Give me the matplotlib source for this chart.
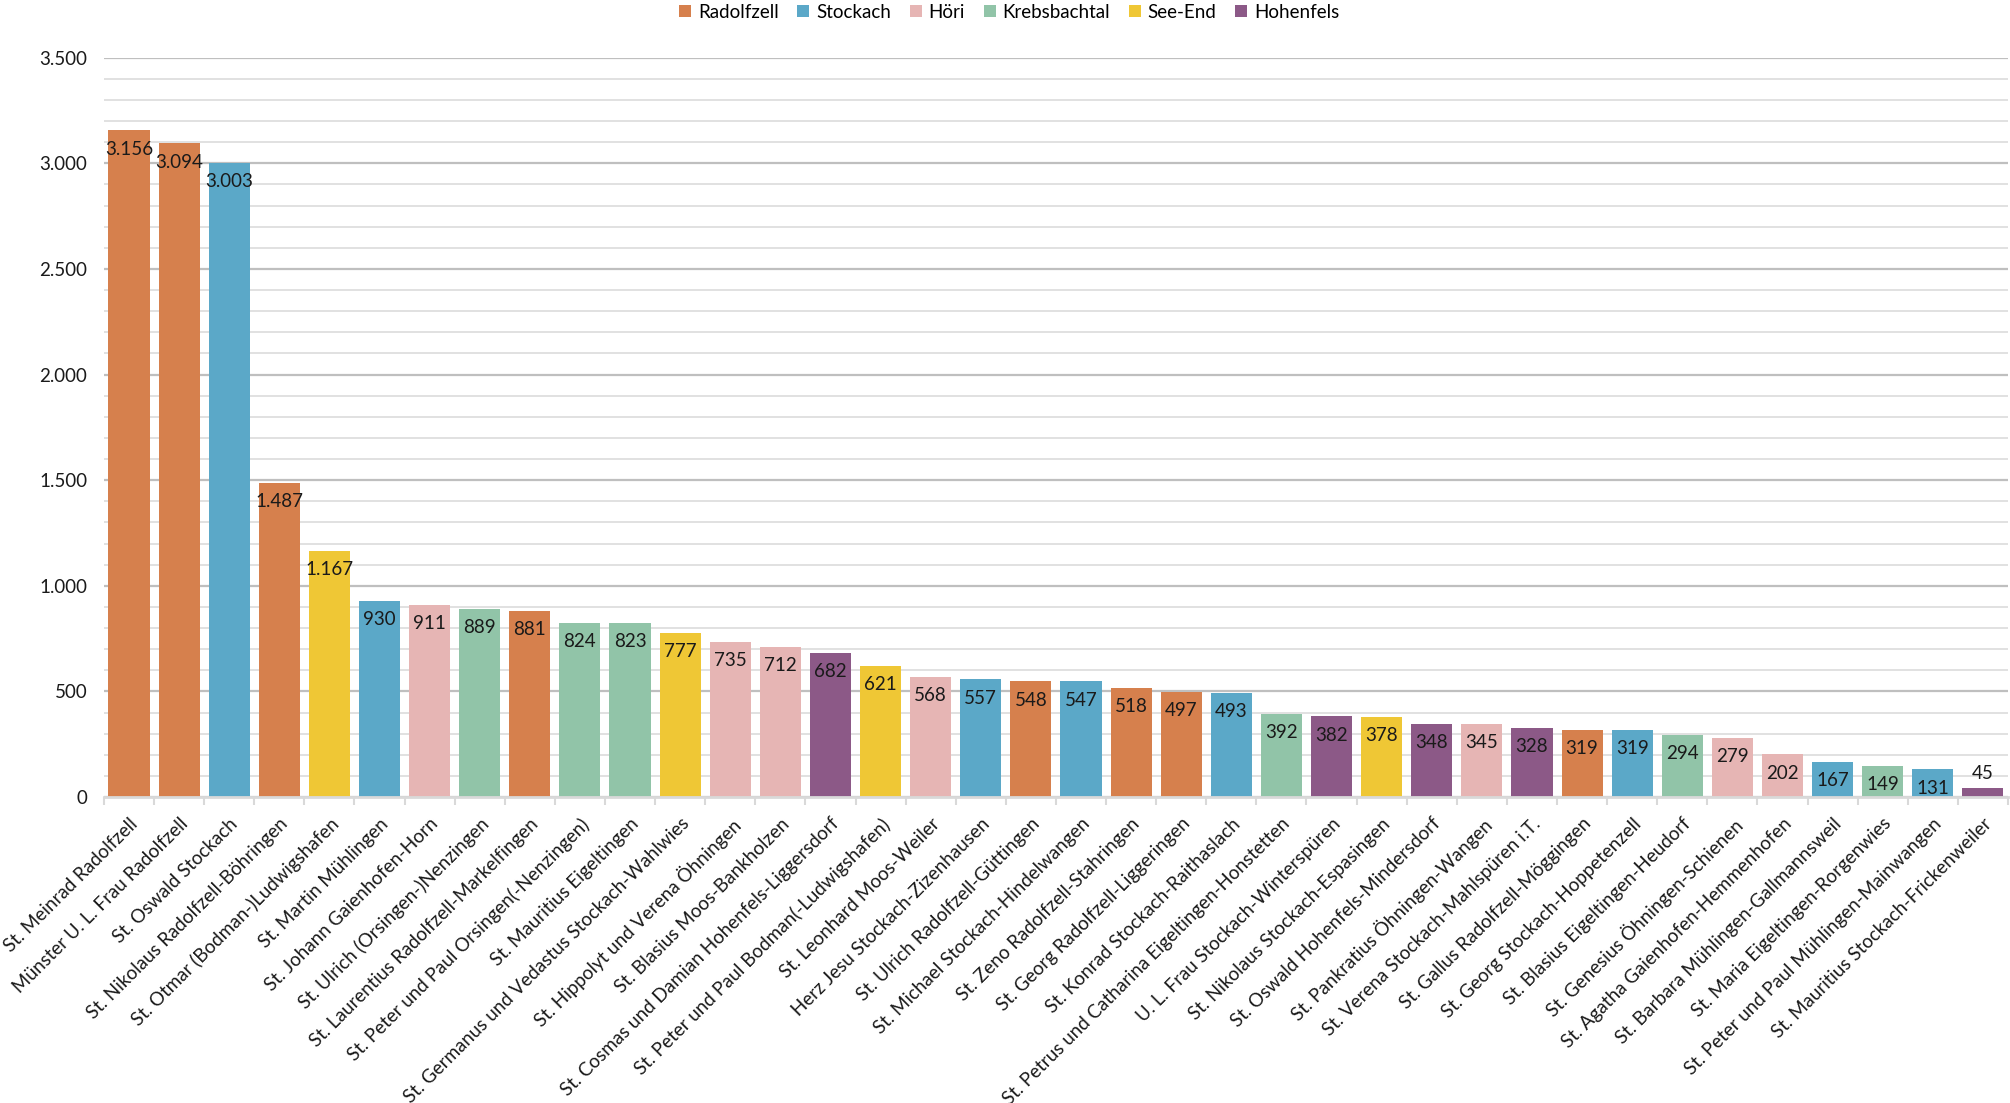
import matplotlib
matplotlib.use('Agg')
import matplotlib.pyplot as plt
import matplotlib.ticker as mticker
from matplotlib.patches import Patch

plt.rcParams['font.family'] = ['Lato', 'DejaVu Sans']

# Data
parishes = [
    'St. Meinrad Radolfzell', 'Münster U. L. Frau Radolfzell', 'St. Oswald Stockach',
    'St. Nikolaus Radolfzell-Böhringen', 'St. Otmar (Bodman-)Ludwigshafen', 'St. Martin Mühlingen',
    'St. Johann Gaienhofen-Horn', 'St. Ulrich (Orsingen-)Nenzingen', 'St. Laurentius Radolfzell-Markelfingen',
    'St. Peter und Paul Orsingen(-Nenzingen)', 'St. Mauritius Eigeltingen',
    'St. Germanus und Vedastus Stockach-Wahlwies', 'St. Hippolyt und Verena Öhningen',
    'St. Blasius Moos-Bankholzen', 'St. Cosmas und Damian Hohenfels-Liggersdorf',
    'St. Peter und Paul Bodman(-Ludwigshafen)', 'St. Leonhard Moos-Weiler',
    'Herz Jesu Stockach-Zizenhausen', 'St. Ulrich Radolfzell-Güttingen',
    'St. Michael Stockach-Hindelwangen', 'St. Zeno Radolfzell-Stahringen',
    'St. Georg Radolfzell-Liggeringen', 'St. Konrad Stockach-Raithaslach',
    'St. Petrus und Catharina Eigeltingen-Honstetten', 'U. L. Frau Stockach-Winterspüren',
    'St. Nikolaus Stockach-Espasingen', 'St. Oswald Hohenfels-Mindersdorf',
    'St. Pankratius Öhningen-Wangen', 'St. Verena Stockach-Mahlspüren i.T.',
    'St. Gallus Radolfzell-Möggingen', 'St. Georg Stockach-Hoppetenzell',
    'St. Blasius Eigeltingen-Heudorf', 'St. Genesius Öhningen-Schienen',
    'St. Agatha Gaienhofen-Hemmenhofen', 'St. Barbara Mühlingen-Gallmannsweil',
    'St. Maria Eigeltingen-Rorgenwies', 'St. Peter und Paul Mühlingen-Mainwangen',
    'St. Mauritius Stockach-Frickenweiler',
]
values = [3156, 3094, 3003, 1487, 1167, 930, 911, 889, 881, 824, 823, 777, 735, 712, 682,
          621, 568, 557, 548, 547, 518, 497, 493, 392, 382, 378, 348, 345, 328, 319, 319,
          294, 279, 202, 167, 149, 131, 45]
regions = ['Radolfzell', 'Radolfzell', 'Stockach', 'Radolfzell', 'See-End', 'Stockach',
           'Höri', 'Krebsbachtal', 'Radolfzell', 'Krebsbachtal', 'Krebsbachtal', 'See-End',
           'Höri', 'Höri', 'Hohenfels', 'See-End', 'Höri', 'Stockach', 'Radolfzell', 'Stockach',
           'Radolfzell', 'Radolfzell', 'Stockach', 'Krebsbachtal', 'Hohenfels', 'See-End',
           'Hohenfels', 'Höri', 'Hohenfels', 'Radolfzell', 'Stockach', 'Krebsbachtal', 'Höri',
           'Höri', 'Stockach', 'Krebsbachtal', 'Stockach', 'Hohenfels']

region_names = ['Radolfzell', 'Stockach', 'Höri', 'Krebsbachtal', 'See-End', 'Hohenfels']
region_colors = ['#D6804D', '#5BA8C8', '#E6B5B4', '#91C4A8', '#EFC735', '#8C5987']
color_map = dict(zip(region_names, region_colors))

def de_fmt(v, pos=None):
    return f'{int(v):,}'.replace(',', '.')

fig = plt.figure(figsize=(20.10, 11.03), dpi=100)
ax = fig.add_axes([0.0517, 0.2774, 0.9473, 0.6703])

x = range(len(values))
bars = ax.bar(x, values, width=0.82, color=[color_map[r] for r in regions], zorder=3)

# data labels (inside end, above the bar if it is too short)
for xi, v in zip(x, values):
    if v < 100:
        ax.annotate(de_fmt(v), (xi, v), xytext=(0, 10), textcoords='offset points',
                    ha='center', va='center', fontsize=13.5, color='#1a1a1a', zorder=4)
    else:
        ax.annotate(de_fmt(v), (xi, v), xytext=(0, -13.5), textcoords='offset points',
                    ha='center', va='center', fontsize=13.5, color='#1a1a1a', zorder=4)

ax.set_xlim(-0.5, len(values) - 0.5)
ax.set_ylim(0, 3500)

ax.yaxis.set_major_locator(mticker.MultipleLocator(500))
ax.yaxis.set_minor_locator(mticker.MultipleLocator(100))
ax.yaxis.set_major_formatter(mticker.FuncFormatter(de_fmt))
ax.grid(axis='y', which='major', color='#BFBFBF', linewidth=1.6, zorder=0)
ax.grid(axis='y', which='minor', color='#D9D9D9', linewidth=1.1, zorder=0)
ax.tick_params(axis='y', which='both', length=0, labelsize=13.5, pad=12, labelcolor='#1a1a1a')

ax.set_xticks(list(x))
ax.set_xticklabels(parishes, rotation=45, ha='right', rotation_mode='anchor',
                   fontsize=13.5, color='#1a1a1a')
ax.set_xticks([i - 0.5 for i in range(len(values) + 1)], minor=True)
ax.tick_params(axis='x', which='major', length=0, pad=13)
ax.tick_params(axis='x', which='minor', length=6, width=1.5, color='#D9D9D9')

for s in ['top', 'right', 'left']:
    ax.spines[s].set_visible(False)
ax.spines['bottom'].set_color('#D9D9D9')
ax.spines['bottom'].set_linewidth(2)
ax.spines['bottom'].set_zorder(5)

handles = [Patch(facecolor=c, edgecolor='none') for c in region_colors]
fig.legend(handles, region_names, loc='upper center', bbox_to_anchor=(0.502, 1.012),
           ncol=6, frameon=False, fontsize=13.5, handlelength=0.65, handleheight=0.65,
           handletextpad=0.35, columnspacing=1.0)

fig.savefig('out.png', dpi=100)
